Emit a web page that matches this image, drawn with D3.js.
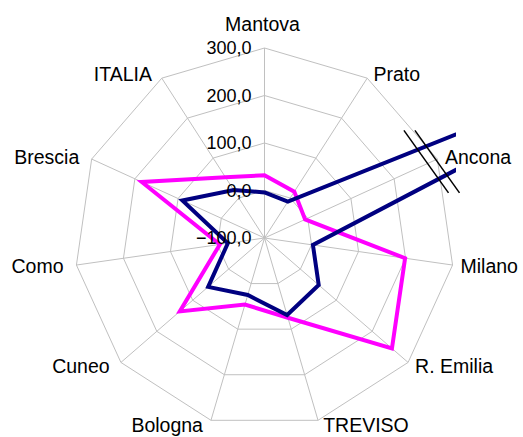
<!DOCTYPE html>
<html>
<head>
<meta charset="utf-8">
<script src="https://cdn.jsdelivr.net/npm/d3@7"></script>
<style>
  body { margin: 0; background: #fff; }
  text { font-family: "Liberation Sans", Arial, sans-serif; fill: #000; }
</style>
</head>
<body>
<svg id="chart" width="523" height="437"></svg>
<script>
// categories, clockwise from the top
var categories = ['Mantova', 'Prato', 'Ancona', 'Milano', 'R. Emilia', 'TREVISO',
  'Bologna', 'Cuneo', 'Como', 'Brescia', 'ITALIA'];
// the magenta series
var serie1 = [32, 16, -6, 199, 255, 75, 46, 136, -5, 184, 52];
// the navy series (Ancona runs off the chart)
var serie2 = [-4, -9, 1000, 3, 51, 69, 25, 57, -22, 90, 20];
var ticks = [-100, 0, 100, 200, 300];

var svg = d3.select('#chart');
var cx = 264.5, cy = 238, R = 190;

var r = d3.scaleLinear().domain([-100, 300]).range([0, R]);
var angle = d3.scaleLinear().domain([0, categories.length]).range([0, 2 * Math.PI]);

var it = d3.formatLocale({ decimal: ',', thousands: '.', grouping: [3], currency: ['', '€'] });
var fmt = it.format('.1f');

var point = function(i, v) {
  var a = angle(i), rr = r(v);
  return [cx + rr * Math.sin(a), cy - rr * Math.cos(a)];
};

// plot area clip (the big Ancona value gets cut at the right edge)
svg.append('clipPath').attr('id', 'plot')
  .append('rect').attr('x', 0).attr('y', 0).attr('width', 456).attr('height', 437);

var grid = svg.append('g');

// rings
ticks.slice(1).forEach(function(t) {
  var pts = categories.map(function(c, i) { return point(i, t); });
  grid.append('polygon')
    .attr('points', pts.map(function(p) { return p.join(','); }).join(' '))
    .attr('fill', 'none')
    .attr('stroke', '#c0c0c0')
    .attr('stroke-width', 1);
});

// spokes
categories.forEach(function(c, i) {
  var p = point(i, 300);
  grid.append('line')
    .attr('x1', cx).attr('y1', cy)
    .attr('x2', p[0]).attr('y2', p[1])
    .attr('stroke', '#c0c0c0')
    .attr('stroke-width', 1);
});

// series
var line = d3.line().curve(d3.curveLinearClosed);
var series = [
  { values: serie1, color: '#ff00ff' },
  { values: serie2, color: '#000080' }
];
var lines = svg.append('g').attr('clip-path', 'url(#plot)');
series.forEach(function(s) {
  lines.append('path')
    .attr('d', line(s.values.map(function(v, i) { return point(i, v); })))
    .attr('fill', 'none')
    .attr('stroke', s.color)
    .attr('stroke-width', 4)
    .attr('stroke-linejoin', 'miter');
});

// break marks across the Ancona spike
var bc = point(2, 287);
[-5.5, 5.5].forEach(function(dx) {
  svg.append('line')
    .attr('x1', bc[0] + dx - 22.3).attr('y1', bc[1] - 31.3)
    .attr('x2', bc[0] + dx + 22.3).attr('y2', bc[1] + 31.3)
    .attr('stroke', '#000')
    .attr('stroke-width', 1.5);
});

// value axis labels
svg.append('g').selectAll('text')
  .data(ticks)
  .enter().append('text')
  .attr('x', cx - 13)
  .attr('y', function(d) { return cy - r(d); })
  .attr('dy', '0.35em')
  .attr('text-anchor', 'end')
  .style('font-size', '18px')
  .text(function(d) { return fmt(d); });

// category labels
svg.append('g').selectAll('text')
  .data(categories)
  .enter().append('text')
  .each(function(d, i) {
    var a = angle(i), s = Math.sin(a), c = Math.cos(a);
    var p = point(i, 300);
    var el = d3.select(this);
    if (Math.abs(s) < 0.1) {
      el.attr('text-anchor', 'middle').attr('x', p[0] - 2).attr('y', p[1] - 24);
    } else if (s > 0) {
      el.attr('text-anchor', 'start').attr('x', p[0] + 4 + 4 * s).attr('y', p[1] - 5 * c);
    } else {
      el.attr('text-anchor', 'end').attr('x', p[0] - 6 + 7 * s).attr('y', p[1] - 5 * c);
    }
  })
  .attr('dy', '0.35em')
  .style('font-size', '19.5px')
  .text(function(d) { return d; });
</script>
</body>
</html>
